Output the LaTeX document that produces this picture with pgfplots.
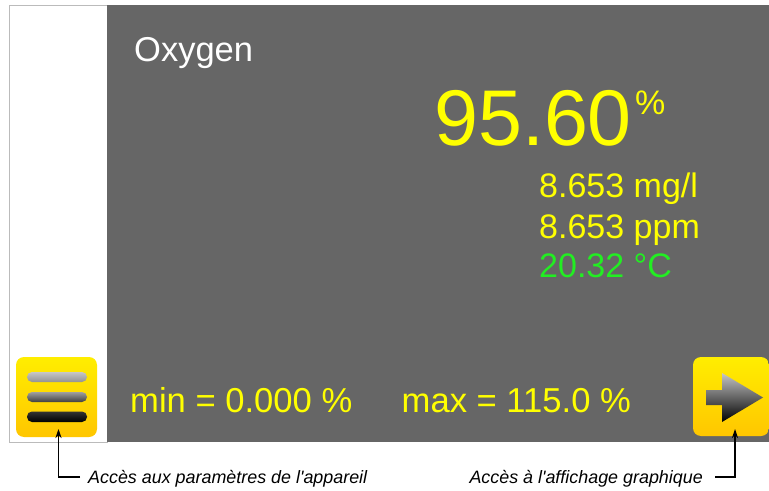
\documentclass[border=0pt]{standalone}
\usepackage{pgfplots}
\pgfplotsset{compat=1.18}
\usepackage{fontspec}
\setmainfont{Liberation Sans}
\usetikzlibrary{arrows.meta}
\definecolor{panel}{HTML}{666666}
\definecolor{ytext}{HTML}{FFFF00}
\definecolor{gtext}{HTML}{22EE22}
\definecolor{btop}{HTML}{FFEE00}
\definecolor{bbot}{HTML}{FFC600}
\definecolor{edge}{HTML}{BBBBBB}
\newcommand{\fs}[1]{\fontsize{#1bp}{#1bp}\selectfont}
\begin{document}
\begin{tikzpicture}
\begin{axis}[x=1bp, y=1bp, y dir=reverse, xmin=0, xmax=769, ymin=0, ymax=491,
  hide axis, scale only axis, clip=false]
% background
\fill[white] (axis cs:0,0) rectangle (axis cs:769,491);
% white side panel
\fill[white, draw=edge, line width=1bp] (axis cs:9.5,5.5) rectangle (axis cs:107,442);
% gray panel
\fill[panel] (axis cs:107,5) rectangle (axis cs:769,442);
% title
\node[anchor=base west, inner sep=0, text=white] at (axis cs:134,62) {\fs{34.5}Oxygen};
% main value
\node[anchor=base west, inner sep=0, text=ytext] at (axis cs:434,146) {\fs{79}95.60};
\node[anchor=base west, inner sep=0, text=ytext] at (axis cs:635,115) {\fs{34}\%};
% secondary values
\node[anchor=base west, inner sep=0, text=ytext] at (axis cs:539,198) {\fs{34}8.653 mg/l};
\node[anchor=base west, inner sep=0, text=ytext] at (axis cs:539,238.5) {\fs{34}8.653 ppm};
\node[anchor=base west, inner sep=0, text=gtext] at (axis cs:539,278) {\fs{34}20.32 °C};
% min / max
\node[anchor=base west, inner sep=0, text=ytext] at (axis cs:130,412) {\fs{34.6}min = 0.000 \%};
\node[anchor=base west, inner sep=0, text=ytext] at (axis cs:401.5,412) {\fs{34.6}max = 115.0 \%};
% left button
\shade[top color=btop, bottom color=bbot, rounded corners=8bp] (axis cs:16,357) rectangle (axis cs:97,437);
\shade[top color=gray!45, bottom color=gray!85, rounded corners=5bp] (axis cs:27,372) rectangle (axis cs:87,382);
\shade[top color=gray!75, bottom color=black!75, rounded corners=5bp] (axis cs:27,392) rectangle (axis cs:87,402);
\shade[top color=black!80, bottom color=black, rounded corners=5bp] (axis cs:27,411.5) rectangle (axis cs:87,422);
% right button
\shade[top color=btop, bottom color=bbot, rounded corners=8bp] (axis cs:769,357) -- (axis cs:693,357) -- (axis cs:693,436) -- (axis cs:769,436) -- cycle;
\shade[top color=gray!45, bottom color=black] (axis cs:706,390) -- (axis cs:722,390) -- (axis cs:722,373) -- (axis cs:763,397.5) -- (axis cs:722,422) -- (axis cs:722,405) -- (axis cs:706,405) -- cycle;
% callouts
\addplot[black, line width=1.2bp, -{Stealth[length=9bp,width=6bp]}] coordinates {(80,477) (58.5,477) (58.5,429)};
\addplot[black, line width=1.2bp, -{Stealth[length=9bp,width=6bp]}] coordinates {(715,477) (735,477) (735,429)};
\node[anchor=base west, inner sep=0] at (axis cs:88,483) {\fs{17.9}\itshape Accès aux paramètres de l\textquotesingle appareil};
\node[anchor=base east, inner sep=0] at (axis cs:703,483) {\fs{17.9}\itshape Accès à l\textquotesingle affichage graphique};
\end{axis}
\end{tikzpicture}
\end{document}
